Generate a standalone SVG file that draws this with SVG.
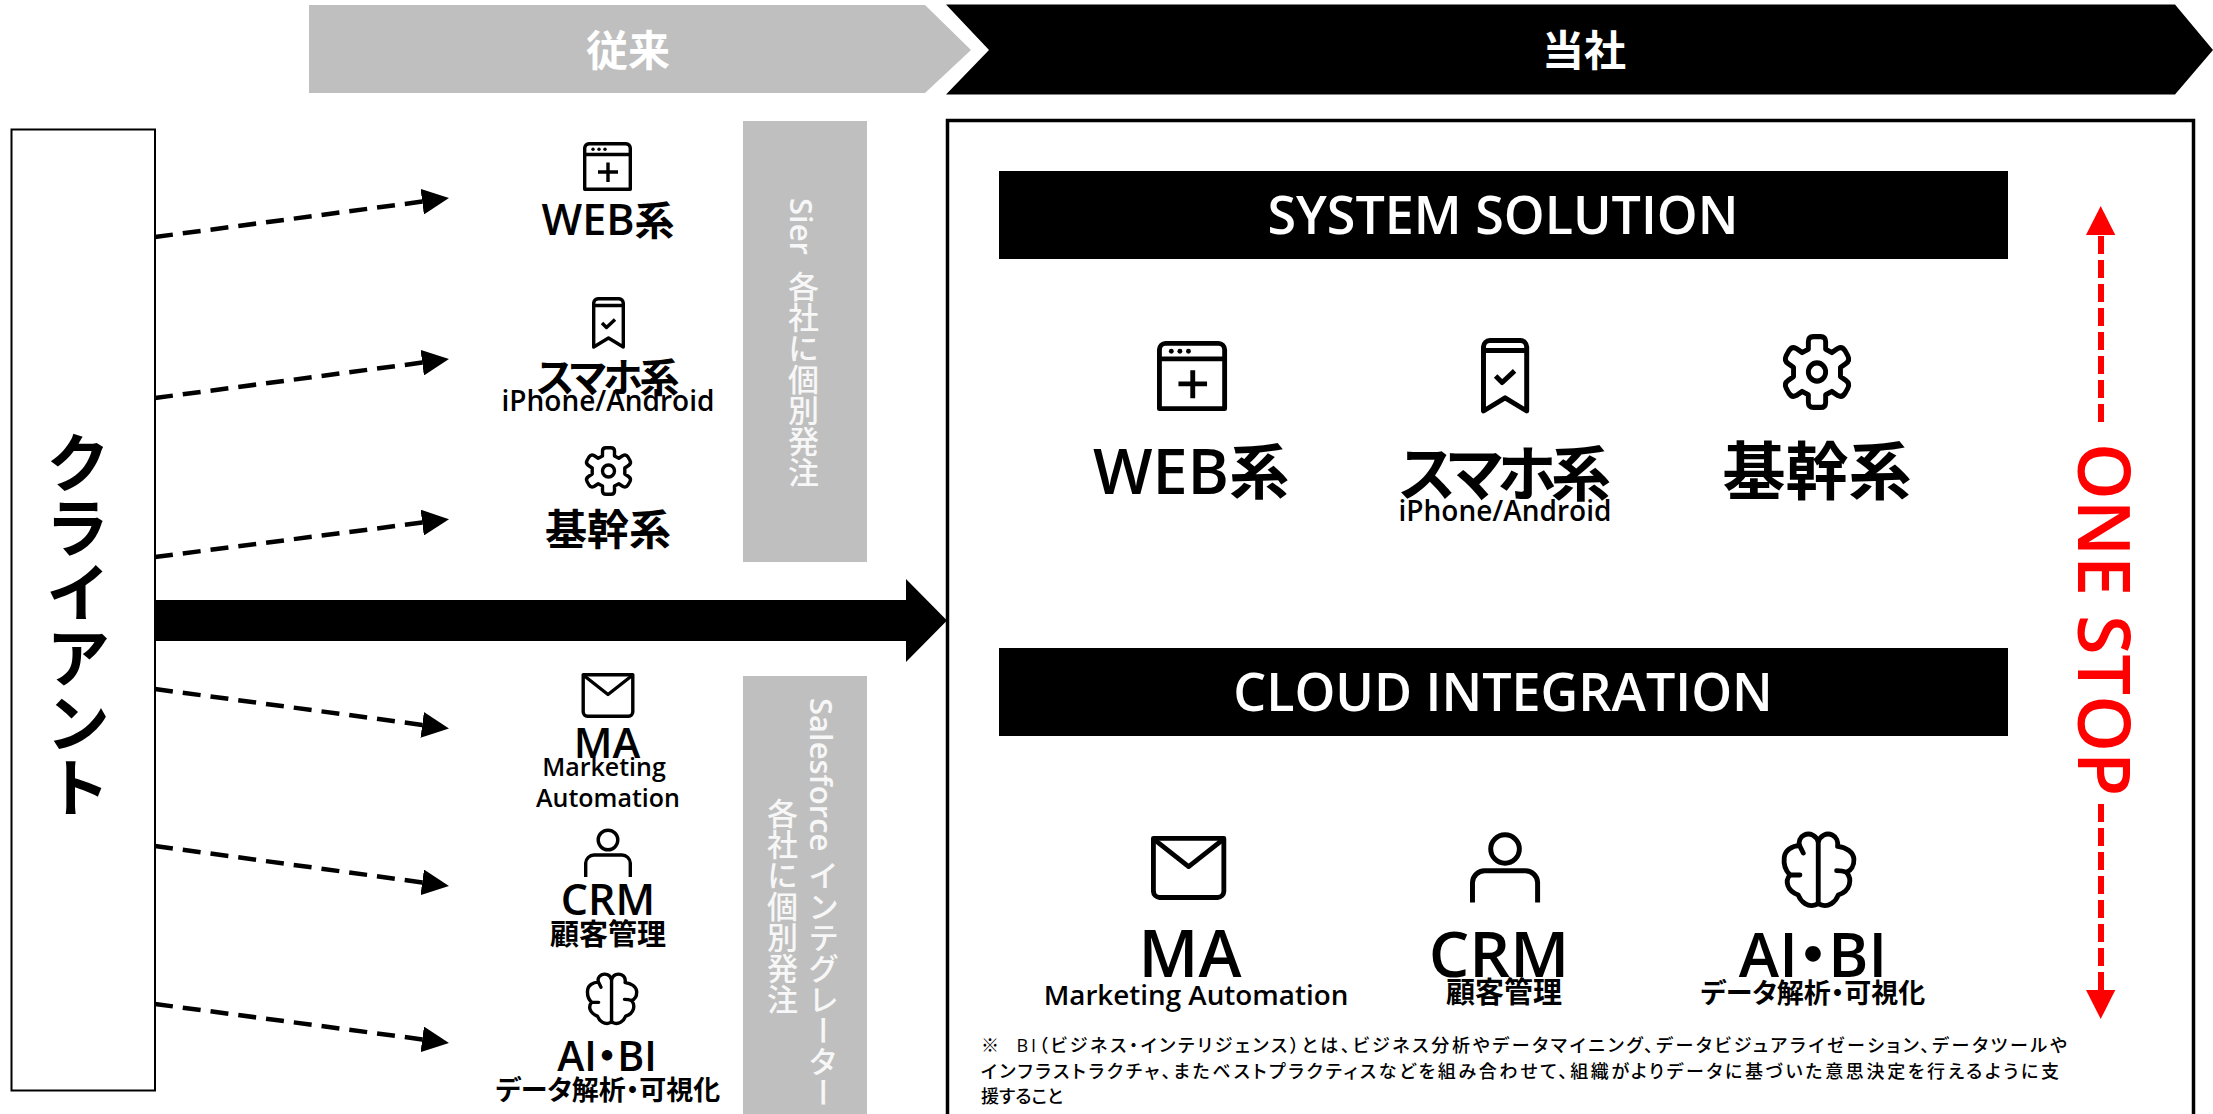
<svg xmlns="http://www.w3.org/2000/svg" width="2213" height="1114" viewBox="0 0 2213 1114">
<style>
text{font-family:"Open Sans","Noto Sans CJK JP",sans-serif;font-weight:600;fill:#000;font-feature-settings:"palt"}
.c{text-anchor:middle}
.w{fill:#fff}
.v{writing-mode:vertical-rl;font-feature-settings:normal;fill:#f7f7f7;font-weight:500;font-size:31px;white-space:pre}
.l{font-weight:600}
.note{font-size:18px;font-weight:500;white-space:pre}
.ic{fill:none;stroke:#000;stroke-linejoin:round}
.dash{fill:none;stroke:#000;stroke-width:4.500;stroke-dasharray:18 10}
.red{fill:none;stroke:#f00;stroke-width:6;stroke-dasharray:18 6}
</style>
<defs>
<marker id="h" viewBox="0 0 27 26" refX="0" refY="13" markerWidth="27" markerHeight="26" markerUnits="userSpaceOnUse" orient="auto"><path d="M0 0L27 13L0 26Z" fill="#000"/></marker>
<g id="i-web" class="ic" stroke-width="3.400"><path d="M1.700 47.300V6A4.500 4.500 0 0 1 6 1.700H43A4.500 4.500 0 0 1 47.300 6V47.300Z"/><path d="M1.700 12.500H47.300M15 30H35M25 20.500V40"/><circle cx="10" cy="7.200" r="1.700" fill="#000" stroke="none"/><circle cx="16" cy="7.200" r="1.700" fill="#000" stroke="none"/><circle cx="22" cy="7.200" r="1.700" fill="#000" stroke="none"/></g>
<g id="i-phone" class="ic" stroke-width="3.400"><path d="M1.700 50V6A4.500 4.500 0 0 1 6 1.700H27A4.500 4.500 0 0 1 31.300 6V50L16.500 41Z"/><path d="M1.700 8.500H31.300M10 26L14.500 30.500L23 22.500"/></g>
<g id="i-gear" class="ic" stroke-width="3.400"><g transform="translate(25 25)"><path d="M-6-15L-6-20Q-6-23.300-2.500-23.300H2.500Q6-23.300 6-20L6-15L10.300-12.800L14.500-15.500Q17.500-17 19.500-14L21.500-10.500Q23-7.500 20-5.500L16.300-3V3L20 5.500Q23 7.500 21.500 10.500L19.500 14Q17.500 17 14.500 15.500L10.300 12.800L6 15L6 20Q6 23.300 2.500 23.300H-2.500Q-6 23.300-6 20L-6 15L-10.300 12.800L-14.500 15.500Q-17.500 17-19.500 14L-21.500 10.500Q-23 7.500-20 5.500L-16.300 3V-3L-20-5.500Q-23-7.500-21.500-10.500L-19.500-14Q-17.500-17-14.500-15.500L-10.300-12.800Z"/><circle r="6"/></g></g>
<g id="i-mail" class="ic" stroke-width="3.400"><path d="M1.700 1.700H51.300V39A4.500 4.500 0 0 1 47 43.300H6A4.500 4.500 0 0 1 1.700 39Z"/><path d="M1.700 2L26.500 21.500L51.300 2"/></g>
<g id="i-person" class="ic" stroke-width="3.400"><circle cx="24" cy="11" r="9.800"/><path d="M1.700 48V34A8.500 8.500 0 0 1 10 26H38A8.500 8.500 0 0 1 46.300 34V48"/></g>
<g id="i-brain" class="ic" transform="translate(-8.500 -6) scale(.2347 .23)" stroke-width="14.500" stroke-linecap="round"><path d="M160 60C155 40 135 30 118 38C105 44 100 58 104 70C80 70 60 85 58 105C55 130 62 145 75 158C60 175 65 205 100 218C108 240 130 255 150 248C156 246 160 243 160 238V60C165 40 185 30 202 38C215 44 220 58 218 72C245 75 265 90 267 110C268 130 258 145 245 150C262 170 258 205 220 218C212 240 190 255 170 248C164 246 160 243 160 238"/><path d="M104 70L115 92M75 158H105M245 150C235 146 225 145 215 145"/></g>
</defs>

<g id="banner-old"><path d="M309 5H925L971 50L925 93H309Z" fill="#bfbfbf"/><text class="c w" x="628" y="66" font-size="42">従来</text></g>
<g id="banner-us"><path d="M946 4.500H2175L2213 50L2175 94.500H946L989 50Z" fill="#000"/><text class="c w" x="1584" y="66" font-size="42">当社</text></g>

<g id="client"><rect x="11.500" y="129.500" width="143.500" height="961" fill="#fff" stroke="#000" stroke-width="2"/><text class="v" x="75" y="430" style="font-size:65px;font-weight:700;fill:#000">クライアント</text></g>

<g id="connectors">
<path d="M155 237L422.200 201.600" class="dash" marker-end="url(#h)"/>
<path d="M155 398L422.200 362.600" class="dash" marker-end="url(#h)"/>
<path d="M155 557L422.200 522.600" class="dash" marker-end="url(#h)"/>
<path d="M155 689L422.200 724.900" class="dash" marker-end="url(#h)"/>
<path d="M155 846L422.200 882.400" class="dash" marker-end="url(#h)"/>
<path d="M155 1004L422.200 1039.400" class="dash" marker-end="url(#h)"/>
<path d="M155 600H906V579L947 620.500L906 662V641H155Z" fill="#000"/>
<path d="M2101 236V422" class="red"/>
<path d="M2101 990V803" class="red"/>
<path d="M2100.700 206L2115.300 235H2086Z" fill="#f00"/>
<path d="M2100.700 1019L2115.300 990H2086Z" fill="#f00"/>
</g>

<g id="panel-sier"><rect x="743" y="121" width="124" height="441" fill="#bfbfbf"/><text class="v" x="802" y="198"><tspan class="l">Sier</tspan>  各社に個別発注</text></g>
<g id="panel-sf"><rect x="743" y="676" width="124" height="438" fill="#bfbfbf"/><text class="v" x="822" y="698"><tspan class="l">Salesforce</tspan> インテグレーター</text><text class="v" x="781" y="798">各社に個別発注</text></g>

<g id="old-web"><use href="#i-web" transform="translate(583 142)"/><text class="c" x="608" y="235" font-size="43">WEB<tspan font-size="40">系</tspan></text></g>
<g id="old-phone"><use href="#i-phone" transform="translate(592 297)"/><text class="c" x="608" y="392" font-size="40" textLength="143" lengthAdjust="spacing">スマホ系</text><text class="c" x="608" y="411" font-size="28">iPhone/Android</text></g>
<g id="old-core"><use href="#i-gear" transform="translate(583.500 446)"/><text class="c" x="608" y="545" font-size="42">基幹系</text></g>
<g id="old-ma"><use href="#i-mail" transform="translate(581.500 673)"/><text class="c" x="607" y="758" font-size="42">MA</text><text class="c" x="604" y="776" font-size="25">Marketing</text><text class="c" x="608" y="807" font-size="25">Automation</text></g>
<g id="old-crm"><use href="#i-person" transform="translate(584 829)"/><text class="c" x="608" y="915" font-size="43">CRM</text><text class="c" x="608" y="945" font-size="29">顧客管理</text></g>
<g id="old-ai"><use href="#i-brain" transform="translate(582.500 972)"/><text class="c" x="607" y="1071" font-size="41">AI・BI</text><text class="c" x="608" y="1100" font-size="27">データ解析・可視化</text></g>

<g id="box"><rect x="947.500" y="120.500" width="1246" height="1010" fill="none" stroke="#000" stroke-width="3.500"/></g>

<g id="sec-system"><rect x="999" y="171" width="1009" height="88" fill="#000"/><text class="c w" x="1503" y="234" font-size="52">SYSTEM SOLUTION</text></g>
<g id="sec-cloud"><rect x="999" y="648" width="1009" height="88" fill="#000"/><text class="c w" x="1503" y="711" font-size="52">CLOUD INTEGRATION</text></g>

<g id="new-web"><use href="#i-web" transform="translate(1157 341) scale(1.430)"/><text class="c" x="1191" y="494" font-size="63">WEB<tspan font-size="60">系</tspan></text></g>
<g id="new-phone"><use href="#i-phone" transform="translate(1481 338) scale(1.460)"/><text class="c" x="1505" y="496" font-size="60" textLength="212" lengthAdjust="spacing">スマホ系</text><text class="c" x="1505" y="521" font-size="28">iPhone/Android</text></g>
<g id="new-core"><use href="#i-gear" transform="translate(1781 334) scale(1.440 1.520)"/><text class="c" x="1817" y="494" font-size="63">基幹系</text></g>
<g id="new-ma"><use href="#i-mail" transform="translate(1151 836) scale(1.420)"/><text class="c" x="1190" y="977" font-size="65">MA</text><text class="c" x="1196" y="1005" font-size="27.800">Marketing Automation</text></g>
<g id="new-crm"><use href="#i-person" transform="translate(1470 833) scale(1.460 1.450)"/><text class="c" x="1499" y="977" font-size="64">CRM</text><text class="c" x="1504" y="1003" font-size="29">顧客管理</text></g>
<g id="new-ai"><use href="#i-brain" transform="translate(1777 831) scale(1.420 1.450)"/><text class="c" x="1813" y="977" font-size="61">AI・BI</text><text class="c" x="1813" y="1003" font-size="27">データ解析・可視化</text></g>

<g id="one-stop"><text transform="translate(2078 443) rotate(90)" font-size="72" style="fill:#f00">ONE STOP</text></g>

<g id="note">
<text class="note" x="981" y="1052" textLength="1086" lengthAdjust="spacing">※  BI（ビジネス・インテリジェンス）とは、ビジネス分析やデータマイニング、データビジュアライゼーション、データツールや</text>
<text class="note" x="981" y="1078" textLength="1078" lengthAdjust="spacing">インフラストラクチャ、またベストプラクティスなどを組み合わせて、組織がよりデータに基づいた意思決定を行えるように支</text>
<text class="note" x="981" y="1103">援すること</text>
</g>
</svg>
